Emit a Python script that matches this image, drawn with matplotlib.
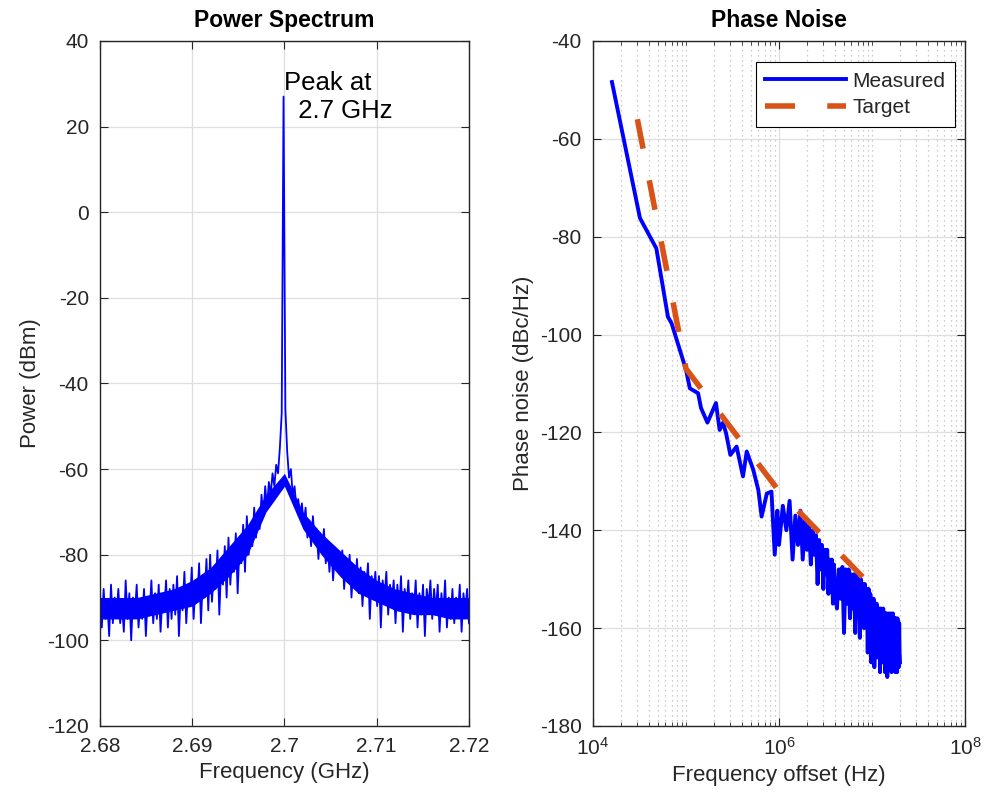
import matplotlib
matplotlib.use('Agg')
import matplotlib.pyplot as plt
import numpy as np
from matplotlib.ticker import FixedLocator, FuncFormatter, NullFormatter

plt.rcParams['font.family'] = ['Liberation Sans', 'DejaVu Sans']
plt.rcParams['mathtext.default'] = 'regular'
plt.rcParams['axes.unicode_minus'] = False

# power spectrum (dBm), evenly sampled from 2.68 to 2.72 GHz
spec_power = [
    -89, -97, -88, -95, -91, -99, -87, -96, -90, -94,
    -88, -96, -92, -98, -86, -95, -89, -100, -90, -94,
    -87, -97, -91, -95, -88, -99, -90, -94, -86, -96,
    -89, -95, -87, -98, -90, -93, -86, -97, -88, -95,
    -87, -94, -85, -99, -89, -93, -84, -96, -88, -92,
    -83, -95, -87, -91, -82, -96, -86, -90, -81, -93,
    -80, -91, -84, -88, -79, -94, -83, -87, -78, -90,
    -76, -87, -80, -84, -75, -89, -78, -82, -73, -84,
    -71, -80, -74, -78, -69, -76, -70, -74, -66, -71,
    -64, -69, -63, -66, -61, -64, -59, -61, -55, -47,
    27,
    -46, -56, -62, -60, -66, -64, -69, -67, -71, -68,
    -73, -69, -76, -72, -78, -71, -77, -74, -81, -75,
    -79, -74, -82, -77, -84, -78, -86, -79, -83, -80,
    -84, -79, -88, -81, -86, -80, -90, -83, -87, -81,
    -89, -83, -92, -84, -88, -82, -95, -85, -90, -84,
    -92, -85, -97, -86, -90, -84, -94, -87, -91, -86,
    -96, -87, -93, -85, -98, -88, -92, -86, -95, -89,
    -93, -86, -97, -89, -94, -87, -99, -88, -92, -86,
    -95, -88, -93, -87, -98, -89, -94, -86, -97, -90,
    -95, -88, -96, -90, -94, -87, -98, -89, -93, -88, -96,
]
spec_freq = np.linspace(2.68, 2.72, len(spec_power))

# dense core of the noise trace (every 2 MHz)
core_freq = [2.680, 2.682, 2.684, 2.686, 2.688, 2.690, 2.692, 2.694, 2.696, 2.698, 2.700,
             2.702, 2.704, 2.706, 2.708, 2.710, 2.712, 2.714, 2.716, 2.718, 2.720]
core_low = [-95, -95, -95, -94, -93, -92, -89, -85, -80, -70, -64,
            -74, -80, -85, -89, -91, -93, -94, -94, -95, -95]
core_high = [-90, -90, -90, -89, -88, -86, -83, -78, -73, -66, -61,
             -70, -75, -79, -83, -86, -88, -89, -90, -90, -90]

# phase noise, measured (offset in Hz, level in dBc/Hz)
pn_offset_low = [
    1.6e4, 3.2e4, 4.8e4, 6.4e4, 7.0e4, 1.0e5, 1.1e5, 1.35e5, 1.45e5, 1.7e5,
    2.1e5, 2.3e5, 2.5e5, 2.7e5, 3.0e5, 3.5e5, 4.1e5, 4.5e5, 5.3e5, 6.0e5,
    6.5e5, 7.4e5, 8.3e5, 9.0e5, 9.6e5,
]
pn_level_low = [
    -48.4, -76.2, -82.4, -96.4, -97.7, -107.2, -111, -112, -115, -118,
    -114, -119.5, -118, -120.2, -124.6, -122.9, -129, -123.9, -127.7, -131.8,
    -137.2, -132.5, -132.1, -145, -136,
]
# above 1 MHz, offsets in MHz
pn_offset_high = [
    1.0, 1.1, 1.2, 1.3, 1.4, 1.5, 1.6, 1.7, 1.8, 1.9,
    2.0, 2.1, 2.2, 2.3, 2.4, 2.5, 2.6, 2.7, 2.8, 2.9,
    3.0, 3.1, 3.2, 3.3, 3.4, 3.5, 3.6, 3.7, 3.8, 3.9, 4.0,
    4.2, 4.4, 4.6, 4.8, 5.0, 5.2, 5.4, 5.6, 5.8, 6.0,
    6.2, 6.4, 6.6, 6.8, 7.0, 7.2, 7.4, 7.6, 7.8, 8.0,
    8.2, 8.4, 8.6, 8.8, 9.0, 9.2, 9.4, 9.6, 9.8, 10.0,
    10.2, 10.4, 10.6, 10.8, 11.0, 11.2, 11.4, 11.6, 11.8, 12.0,
    12.2, 12.4, 12.6, 12.8, 13.0, 13.2, 13.4, 13.6, 13.8, 14.0,
    14.2, 14.4, 14.6, 14.8, 15.0, 15.2, 15.4, 15.6, 15.8, 16.0,
    16.2, 16.4, 16.6, 16.8, 17.0, 17.2, 17.4, 17.6, 17.8, 18.0,
    18.2, 18.4, 18.6, 18.8, 19.0, 19.2, 19.4, 19.6, 19.8, 20.0,
]
pn_level_high = [
    -143, -135, -140, -134, -146, -137, -143, -136, -146, -138,
    -144, -139, -147, -140, -145, -141, -151, -142, -148, -143,
    -152, -144, -149, -144, -153, -146, -151, -146, -155, -147, -152,
    -156, -148, -154, -147.5, -161, -148, -155, -148, -158, -149,
    -156, -149, -161, -149, -157, -150, -162, -150, -158, -151,
    -160, -151, -157, -152, -165, -152, -160, -153, -167, -154,
    -162, -154, -168, -155, -163, -155, -166, -156, -162, -156,
    -169, -156, -164, -157, -167, -156, -163, -157, -169, -157,
    -165, -157, -170, -158, -164, -157, -168, -158, -163, -157,
    -169, -158, -165, -157, -168, -158, -163, -158, -169, -158,
    -165, -159, -169, -158, -166, -159, -168, -159, -165, -167,
]
pn_offset = pn_offset_low + [m * 1e6 for m in pn_offset_high]
pn_measured = pn_level_low + pn_level_high

# phase noise, target mask
target_offset = [3e4, 1e5, 1e6, 1e7]
target_level = [-56, -107, -132, -151.5]

text_col = '#262626'
grid_col = '#dedede'

fig = plt.figure(figsize=(9.86, 8.06), dpi=100)
ax1 = fig.add_axes([0.1014, 0.0993, 0.3742, 0.8499])
ax2 = fig.add_axes([0.6014, 0.0993, 0.3773, 0.8499])

# left: power spectrum
ax1.fill_between(core_freq, core_low, core_high, color='#0000ff', lw=0)
ax1.plot(spec_freq, spec_power, color='#0000ff', lw=1.3)
ax1.set_xlim(2.68, 2.72)
ax1.set_ylim(-120, 40)
ax1.set_xticks([2.68, 2.69, 2.70, 2.71, 2.72])
ax1.set_xticklabels(['2.68', '2.69', '2.7', '2.71', '2.72'])
ax1.set_yticks(np.arange(-120, 41, 20))
ax1.grid(True, color=grid_col, lw=0.9)
ax1.set_axisbelow(True)
ax1.set_title('Power Spectrum', fontsize=16.5, fontweight='bold', pad=10)
ax1.set_xlabel('Frequency (GHz)', fontsize=16, color=text_col)
ax1.set_ylabel('Power (dBm)', fontsize=16, color=text_col)
ax1.text(2.7, 27, 'Peak at\n  2.7 GHz', fontsize=18.5, ha='left', va='center')

# right: phase noise
ax2.semilogx(pn_offset, pn_measured, color='#0000ff', lw=2.8, label='Measured')
ax2.semilogx(target_offset, target_level, color='#d95319', lw=4,
             dashes=(5.4, 5.8), label='Target')
ax2.set_xlim(1e4, 1e8)
ax2.set_ylim(-180, -40)
ax2.set_yticks(np.arange(-180, -39, 20))
ax2.xaxis.set_major_locator(FixedLocator([1e4, 1e6, 1e8]))
minor = [k * 10.0 ** d for d in range(4, 8) for k in range(1, 10)]
minor = [m for m in minor if m not in (1e4, 1e6, 1e8)]
ax2.xaxis.set_minor_locator(FixedLocator(minor))
ax2.xaxis.set_minor_formatter(NullFormatter())
ax2.xaxis.set_major_formatter(FuncFormatter(lambda v, p: r'$10^{%d}$' % round(np.log10(v))))
ax2.grid(True, which='major', color=grid_col, lw=0.9)
ax2.grid(True, which='minor', axis='x', color='#bdbdbd', lw=0.9, linestyle=(0, (1, 3)))
ax2.set_axisbelow(True)
ax2.set_title('Phase Noise', fontsize=16.5, fontweight='bold', pad=10)
ax2.set_xlabel('Frequency offset (Hz)', fontsize=16, color=text_col)
ax2.set_ylabel('Phase noise (dBc/Hz)', fontsize=16, color=text_col)
leg = ax2.legend(loc='upper right', bbox_to_anchor=(0.973, 0.969), borderaxespad=0,
                 fontsize=15, handlelength=3.9, handletextpad=0.3, fancybox=False,
                 framealpha=1, edgecolor='black', borderpad=0.45, labelspacing=0.38)
leg.get_frame().set_linewidth(0.8)
for t in leg.get_texts():
    t.set_color(text_col)

for ax in (ax1, ax2):
    ax.tick_params(which='major', direction='in', top=True, right=True, length=6,
                   width=0.8, labelsize=15, colors=text_col, pad=8)
    ax.tick_params(which='minor', direction='in', top=True, right=True, length=3,
                   width=0.6, colors=text_col)
    for s in ax.spines.values():
        s.set_color(text_col)
        s.set_linewidth(1.0)

fig.savefig('out.png', dpi=100)
